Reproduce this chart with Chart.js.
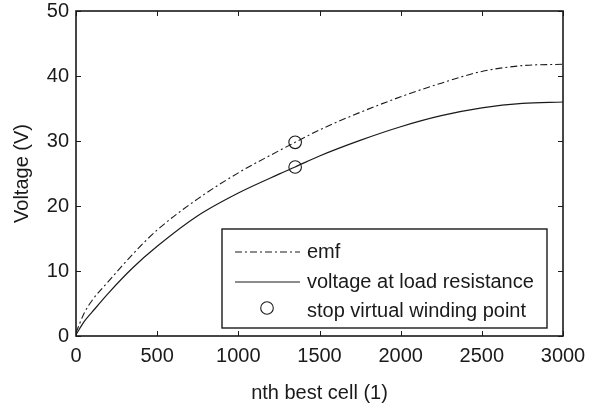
<!DOCTYPE html>
<html>
<head>
<meta charset="utf-8">
<script src="https://cdn.jsdelivr.net/npm/chart.js@4"></script>
<style>
  html, body { margin: 0; padding: 0; background: #fff; }
  #wrap { width: 592px; height: 410px; }
</style>
</head>
<body>
<div id="wrap"><canvas id="chart" width="592" height="410"></canvas></div>
<script>
// values
const cellIndex = [0, 50, 100, 200, 350, 500, 750, 1000, 1250, 1350, 1500, 1750, 2000, 2250, 2500, 2750, 3000];
const emfValues = [0.5, 3.5, 5.5, 8.4, 12.6, 16.3, 21.1, 25.1, 28.5, 29.8, 31.7, 34.4, 36.8, 38.9, 40.7, 41.6, 41.8];
const loadValues = [0.2, 2.2, 3.7, 6.6, 10.5, 13.8, 18.5, 22.0, 24.9, 26.0, 27.7, 30.1, 32.2, 33.9, 35.1, 35.8, 36.0];
const stopCell = [1350, 1350];
const stopValues = [29.8, 26.0];
const xTicks = [0, 500, 1000, 1500, 2000, 2500, 3000];
const yTicks = [0, 10, 20, 30, 40, 50];
const legendLabels = ["emf", "voltage at load resistance", "stop virtual winding point"];

const FONT = "'Liberation Sans', Arial, Helvetica, sans-serif";
const INK = "#1a1a1a";

const toPoints = (xs, ys) => xs.map((x, i) => ({ x, y: ys[i] }));

// MATLAB-like frame with inward ticks, plus the boxed legend
const framePlugin = {
  id: "frame",
  afterDatasetsDraw(chart) {
    const { ctx, chartArea: a, scales } = chart;
    ctx.save();
    ctx.strokeStyle = INK;
    ctx.lineWidth = 1;
    const len = 5;
    ctx.beginPath();
    xTicks.forEach(v => {
      const px = Math.round(scales.x.getPixelForValue(v)) + 0.5;
      ctx.moveTo(px, a.bottom); ctx.lineTo(px, a.bottom - len);
      ctx.moveTo(px, a.top); ctx.lineTo(px, a.top + len);
    });
    yTicks.forEach(v => {
      const py = Math.round(scales.y.getPixelForValue(v)) + 0.5;
      ctx.moveTo(a.left, py); ctx.lineTo(a.left + len, py);
      ctx.moveTo(a.right, py); ctx.lineTo(a.right - len, py);
    });
    ctx.stroke();
    ctx.lineWidth = 1.6;
    ctx.strokeRect(a.left, a.top, a.right - a.left, a.bottom - a.top);

    // legend box
    const bx = 222, by = 229, bw = 325, bh = 99;
    ctx.fillStyle = "#fff";
    ctx.fillRect(bx, by, bw, bh);
    ctx.lineWidth = 1.4;
    ctx.strokeRect(bx, by, bw, bh);
    const rows = [252, 282, 311];
    const sx0 = 235, sx1 = 300, tx = 307;
    ctx.lineWidth = 1.1;
    ctx.setLineDash([7, 3, 2, 3]);
    ctx.beginPath(); ctx.moveTo(sx0, rows[0]); ctx.lineTo(sx1, rows[0]); ctx.stroke();
    ctx.setLineDash([]);
    ctx.beginPath(); ctx.moveTo(sx0, rows[1]); ctx.lineTo(sx1, rows[1]); ctx.stroke();
    ctx.beginPath(); ctx.arc(267, rows[2] - 3, 6.3, 0, Math.PI * 2); ctx.stroke();
    ctx.fillStyle = INK;
    ctx.font = "20px " + FONT;
    ctx.textBaseline = "middle";
    legendLabels.forEach((t, i) => ctx.fillText(t, tx, rows[i]));
    ctx.restore();
  }
};

new Chart(document.getElementById("chart"), {
  type: "line",
  data: {
    datasets: [
      {
        label: legendLabels[0],
        data: toPoints(cellIndex, emfValues),
        borderColor: INK,
        borderWidth: 1.1,
        borderDash: [7, 3, 2, 3],
        pointRadius: 0,
        cubicInterpolationMode: "monotone",
        fill: false
      },
      {
        label: legendLabels[1],
        data: toPoints(cellIndex, loadValues),
        borderColor: INK,
        borderWidth: 1.2,
        pointRadius: 0,
        cubicInterpolationMode: "monotone",
        fill: false
      },
      {
        label: legendLabels[2],
        data: toPoints(stopCell, stopValues),
        showLine: false,
        pointRadius: 6.3,
        pointBorderWidth: 1.1,
        pointBorderColor: INK,
        pointBackgroundColor: "rgba(0,0,0,0)"
      }
    ]
  },
  options: {
    responsive: false,
    animation: false,
    layout: { padding: { top: 11, right: 29, left: 0, bottom: 0 } },
    plugins: { legend: { display: false }, tooltip: { enabled: false } },
    scales: {
      x: {
        type: "linear",
        min: 0, max: 3000,
        afterBuildTicks: s => { s.ticks = xTicks.map(v => ({ value: v })); },
        afterFit: s => { s.height = 74; s.paddingLeft = 0; s.paddingRight = 0; },
        grid: { display: false, drawTicks: false },
        border: { display: false },
        ticks: { color: INK, padding: 8, maxRotation: 0, font: { family: FONT, size: 20 }, callback: v => String(v) },
        title: { display: true, text: "nth best cell (1)", color: INK, padding: { top: 4, bottom: 5 }, font: { family: FONT, size: 20 } }
      },
      y: {
        min: 0, max: 50,
        afterBuildTicks: s => { s.ticks = yTicks.map(v => ({ value: v })); },
        afterFit: s => { s.width = 76; s.paddingTop = 0; s.paddingBottom = 0; },
        grid: { display: false, drawTicks: false },
        border: { display: false },
        ticks: { color: INK, padding: 7, font: { family: FONT, size: 20 }, callback: v => String(v) },
        title: { display: true, text: "Voltage (V)", color: INK, padding: { top: 10, bottom: 4 }, font: { family: FONT, size: 20 } }
      }
    }
  },
  plugins: [framePlugin]
});
</script>
</body>
</html>
